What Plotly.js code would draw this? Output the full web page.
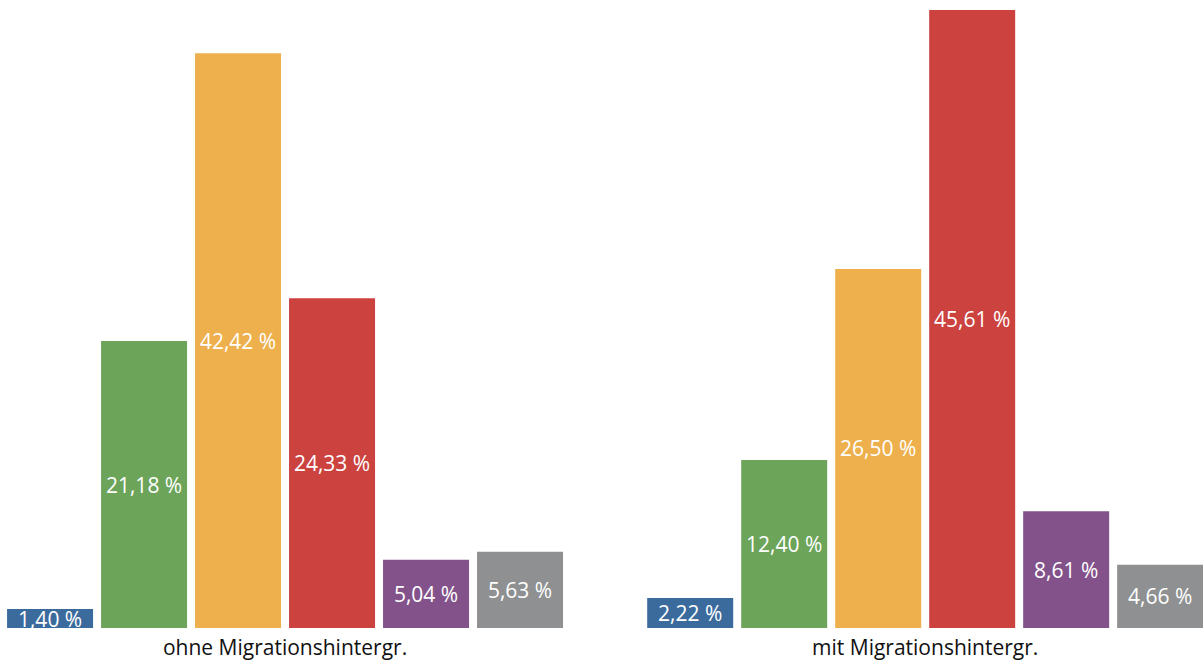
<!DOCTYPE html>
<html><head><meta charset="utf-8">
<script src="https://cdn.plot.ly/plotly-3.0.1.min.js"></script>
<style>html,body{margin:0;padding:0;background:#fff}#chart{width:1203px;height:662px}</style>
</head><body><div id="chart"></div>
<script>
var categories = ["ohne Migrationshintergr.", "mit Migrationshintergr."];
var seriesNames = ["Serie 1", "Serie 2", "Serie 3", "Serie 4", "Serie 5", "Serie 6"];
var blueValues = [1.40, 2.22];
var greenValues = [21.18, 12.40];
var orangeValues = [42.42, 26.50];
var redValues = [24.33, 45.61];
var purpleValues = [5.04, 8.61];
var greyValues = [5.63, 4.66];
var colors = ["#3b6b9c", "#6ca45a", "#edb04c", "#cb423f", "#83528b", "#8e9091"];

var allValues = [blueValues, greenValues, orangeValues, redValues, purpleValues, greyValues];
function fmt(v){ return v.toFixed(2).replace('.', ',') + ' %'; }
var traces = allValues.map(function(vals, i){
  return {
    type: 'bar', x: categories, y: vals, name: seriesNames[i],
    marker: {color: colors[i]},
    text: vals.map(fmt), textposition: 'inside', insidetextanchor: 'middle',
    textangle: 0, constraintext: 'none',
    textfont: {color: '#ffffff', size: 21, family: 'Open Sans, sans-serif'},
    hoverinfo: 'none'
  };
});
var layout = {
  width: 1203, height: 662,
  margin: {l: 0, r: 0, t: 0, b: 34},
  showlegend: false,
  barmode: 'group', bargap: 0.119, bargroupgap: 0.085,
  paper_bgcolor: '#fff', plot_bgcolor: '#fff',
  xaxis: {type: 'category', range: [-0.4453, 1.434], showgrid: false, zeroline: false,
          showline: false, ticks: '', ticklabelstandoff: 5,
          tickfont: {size: 21, color: '#111', family: 'Open Sans, sans-serif'}},
  yaxis: {range: [0, 46.35], visible: false, showgrid: false, zeroline: false},
  font: {family: 'Open Sans, sans-serif'}
};
Plotly.newPlot('chart', traces, layout, {staticPlot: true, displayModeBar: false});
</script></body></html>
